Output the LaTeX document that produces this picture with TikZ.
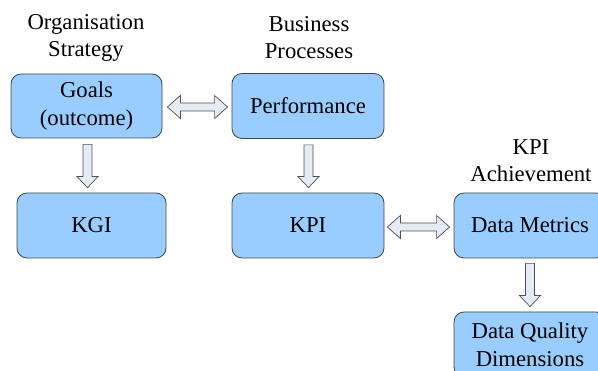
\documentclass[tikz,border=0pt]{standalone}
\usepackage{fontspec}
\setmainfont{Liberation Serif}
\usetikzlibrary{calc}
\definecolor{boxfill}{HTML}{99CCFF}
\definecolor{boxline}{HTML}{404848}
\definecolor{arrowfill}{HTML}{E6ECF6}
\definecolor{arrowline}{HTML}{505050}
\tikzset{
  stepbox/.style={draw=boxline, fill=boxfill, line width=0.8pt, rounded corners=10pt,
    inner sep=0pt, align=center, font=\rmfamily\fontsize{22.7}{28}\selectfont},
  caption/.style={align=center, font=\rmfamily\fontsize{22.7}{27}\selectfont},
  hollow/.style={draw=arrowline, fill=arrowfill, line width=0.7pt, line join=miter},
}
% hollow two-headed arrow between two points (horizontal)
\newcommand\twoheaded[2]{%
  \draw[hollow] (#1) -- ($(#1)+(13,-11.5)$) -- ($(#1)+(13,-4)$) -- ($(#2)+(-13,-4)$)
    -- ($(#2)+(-13,-11.5)$) -- (#2) -- ($(#2)+(-13,11.5)$) -- ($(#2)+(-13,4)$)
    -- ($(#1)+(13,4)$) -- ($(#1)+(13,11.5)$) -- cycle;}
% hollow downward arrow between two points (vertical)
\newcommand\downhollow[2]{%
  \draw[hollow] ($(#1)+(-4.5,0)$) -- ($(#1)+(4.5,0)$) -- ($(#2)+(4.5,-11)$)
    -- ($(#2)+(10.5,-11)$) -- (#2) -- ($(#2)+(-10.5,-11)$) -- ($(#2)+(-4.5,-11)$) -- cycle;}
\begin{document}
\begin{tikzpicture}[x=1pt, y=-1pt]
  \useasboundingbox (0,0) rectangle (598,371);
  \begin{scope}
    \clip (0,0) rectangle (598,371);
    % boxes
    \node[stepbox, minimum width=151pt, minimum height=64pt] (goals) at (86.5,106) {Goals\\(outcome)};
    \node[stepbox, minimum width=152pt, minimum height=65pt] (perf) at (308,106) {Performance};
    \node[stepbox, minimum width=149pt, minimum height=65pt] (kgi) at (91.5,225.5) {KGI};
    \node[stepbox, minimum width=152pt, minimum height=65pt] (kpi) at (308,225.5) {KPI};
    \node[stepbox, minimum width=152pt, minimum height=65pt] (metrics) at (530,225.5) {Data Metrics};
    \node[stepbox, minimum width=152pt, minimum height=65pt] (quality) at (530,344.5) {Data Quality\\Dimensions};
    % group captions
    \node[caption] (strategy) at (86,38) {Organisation\\Strategy};
    \node[caption] (business) at (309,38) {Business\\Processes};
    \node[caption] (achieve) at (531,161) {KPI\\Achievement};
    % connectors
    \coordinate (a1) at ($(goals.east)+(5,1)$);
    \coordinate (a2) at ($(perf.west)+(-4,1)$);
    \twoheaded{a1}{a2}
    \coordinate (b1) at ($(kpi.east)+(3,1.5)$);
    \coordinate (b2) at ($(metrics.west)+(-4,1.5)$);
    \twoheaded{b1}{b2}
    \coordinate (c1) at ($(goals.south)+(1,6)$);
    \coordinate (c3) at ($(c1 |- kgi.north)+(0,-5)$);
    \downhollow{c1}{c3}
    \coordinate (d1) at ($(perf.south)+(0.5,6)$);
    \coordinate (d2) at ($(d1 |- kpi.north)+(0,-5)$);
    \downhollow{d1}{d2}
    \coordinate (e1) at ($(metrics.south)+(0,5)$);
    \coordinate (e2) at ($(e1 |- quality.north)+(0,-5)$);
    \downhollow{e1}{e2}
  \end{scope}
\end{tikzpicture}
\end{document}
